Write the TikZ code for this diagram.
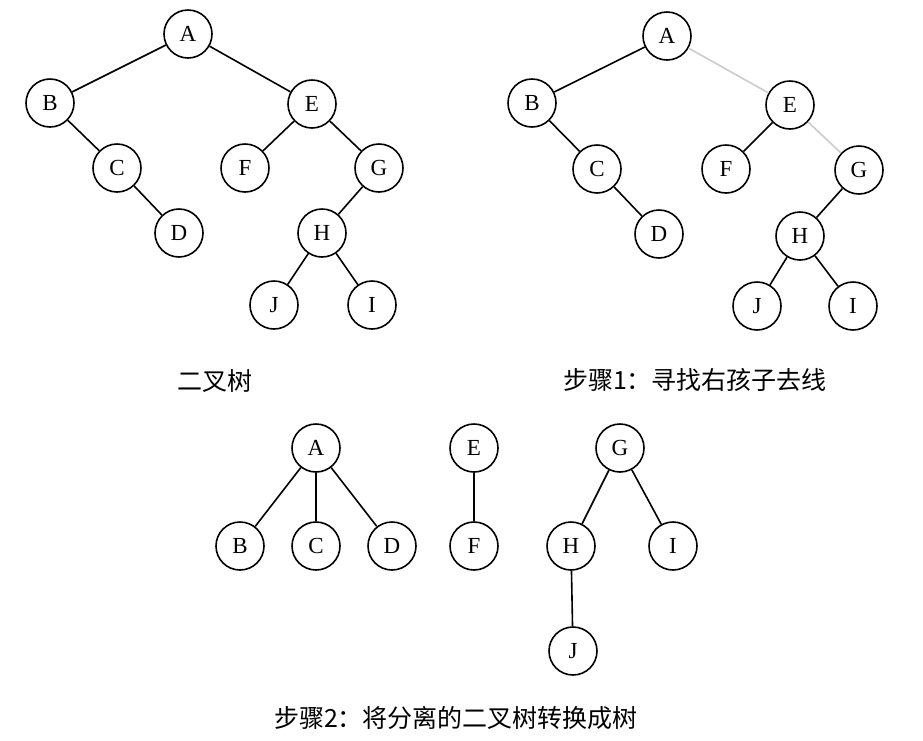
\documentclass[tikz,border=0pt]{standalone}
\usepackage{fontspec}
\setmainfont{Liberation Serif}
\newfontfamily\cjk{Noto Sans CJK SC}
\begin{document}
\begin{tikzpicture}[x=1pt,y=-1pt,
  tn/.style={circle,draw,line width=1.6pt,minimum size=48pt,inner sep=0pt,font=\fontsize{23}{25}\selectfont},
  edge/.style={line width=1.6pt},
  faint/.style={line width=1.6pt,draw=black!20},
  captxt/.style={font=\cjk\fontsize{25}{27}\selectfont}]
\useasboundingbox[fill=white] (0,0) rectangle (923,740);
% tree 1
\node[tn] (a1) at (188,34) {A};
\node[tn] (b1) at (50,103) {B};
\node[tn] (c1) at (117,168) {C};
\node[tn] (d1) at (179,233) {D};
\node[tn] (e1) at (312,104) {E};
\node[tn] (f1) at (245,168) {F};
\node[tn] (g1) at (379,168) {G};
\node[tn] (h1) at (322,233) {H};
\node[tn] (j1) at (274,305) {J};
\node[tn] (i1) at (372,305) {I};
\draw[edge] (a1)--(b1) (b1)--(c1) (c1)--(d1) (a1)--(e1) (e1)--(f1) (e1)--(g1) (g1)--(h1) (h1)--(j1) (h1)--(i1);
\node[captxt] (t1) at (215,381) {二叉树};
% tree 2
\node[tn] (a2) at (667,36) {A};
\node[tn] (b2) at (532,103) {B};
\node[tn] (c2) at (597,169) {C};
\node[tn] (d2) at (659,234) {D};
\node[tn] (e2) at (790,105) {E};
\node[tn] (f2) at (726,169) {F};
\node[tn] (g2) at (859,170) {G};
\node[tn] (h2) at (800,236) {H};
\node[tn] (j2) at (757,306) {J};
\node[tn] (i2) at (853,306) {I};
\draw[edge] (a2)--(b2) (b2)--(c2) (c2)--(d2) (e2)--(f2) (g2)--(h2) (h2)--(j2) (h2)--(i2);
\draw[faint] (a2)--(e2) (e2)--(g2);
\node[captxt] (t2) at (695,380) {步骤1：寻找右孩子去线};
% tree 3
\node[tn] (a3) at (316,448) {A};
\node[tn] (b3) at (240,546) {B};
\node[tn] (c3) at (316,546) {C};
\node[tn] (d3) at (392,546) {D};
\node[tn] (e3) at (474,448) {E};
\node[tn] (f3) at (474,546) {F};
\node[tn] (g3) at (620,448) {G};
\node[tn] (h3) at (571,546) {H};
\node[tn] (i3) at (673,546) {I};
\node[tn] (j3) at (573,651) {J};
\draw[edge] (a3)--(b3) (a3)--(c3) (a3)--(d3) (e3)--(f3) (g3)--(h3) (g3)--(i3) (h3)--(j3);
\node[captxt] (t3) at (456,718) {步骤2：将分离的二叉树转换成树};
\end{tikzpicture}
\end{document}
